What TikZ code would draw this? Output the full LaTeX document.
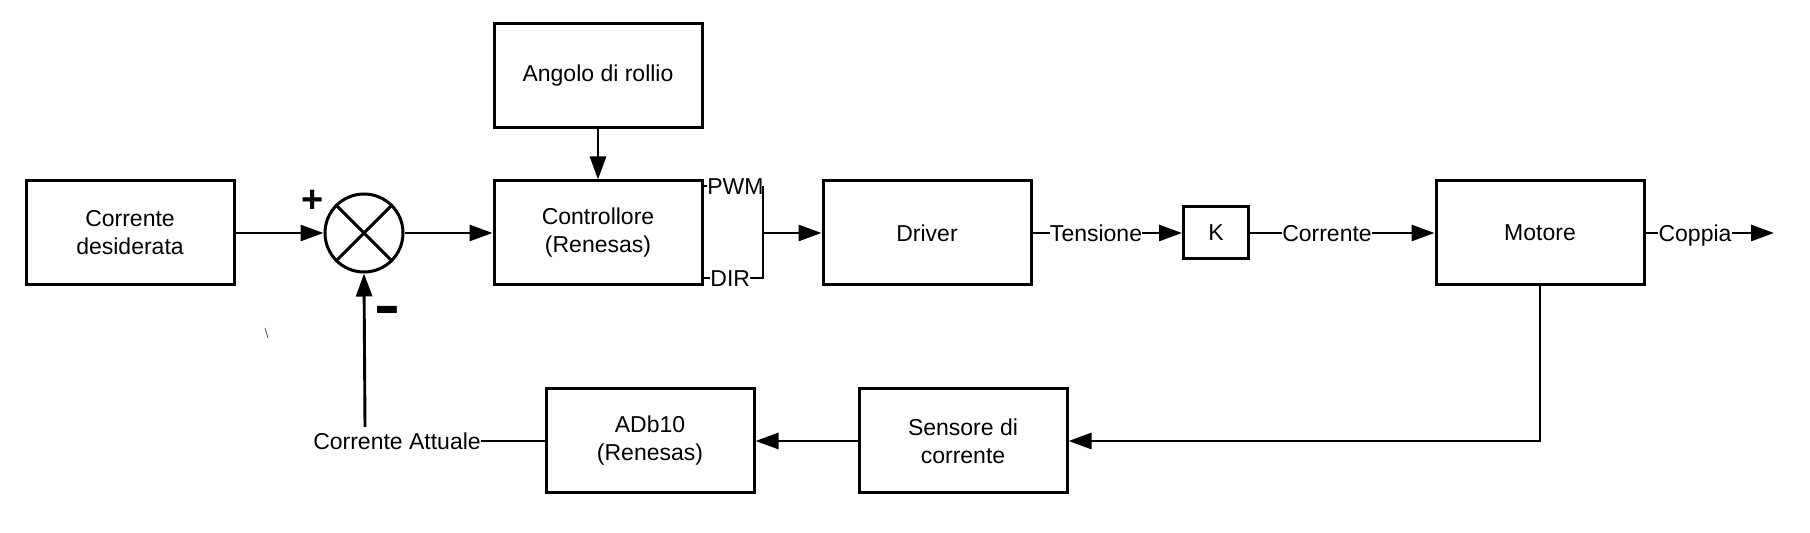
\documentclass[tikz,border=0pt]{standalone}
\usepackage{fontspec}
\setmainfont{Liberation Sans}
\usetikzlibrary{arrows.meta,calc}
\begin{document}
\begin{tikzpicture}[x=0.5pt,y=-0.5pt,
  every node/.style={font=\fontsize{11.5}{14}\selectfont},
  blockbox/.style={draw,line width=1.5pt,minimum width=104pt,minimum height=52pt,inner sep=0pt,align=center},
  lbl/.style={inner sep=0pt,text height=8.2pt,text depth=0pt},
  conn/.style={line width=1.45pt},
  arr/.style={conn,-{Triangle[length=11.5pt,width=8pt]}},
  sign/.style={inner sep=0pt,font=\fontsize{19}{19}\selectfont\bfseries}
]
\useasboundingbox (0,0) rectangle (1810,533);
\fill[white] (0,0) rectangle (1810,533);

% blocks
\node[blockbox] (cd)   at (130,233) {Corrente\\desiderata};
\node[draw,circle,line width=1.5pt,minimum size=39pt,inner sep=0pt] (sum) at (364,233) {};
\node[blockbox] (ctrl) at (598,233) {Controllore\\(Renesas)};
\node[blockbox] (ang)  at (598,76)  {Angolo di rollio};
\node[blockbox] (drv)  at (927,233) {Driver};
\node[blockbox,minimum width=32.5pt,minimum height=26pt] (k) at (1216,233) {K};
\node[blockbox] (mot)  at (1540,233) {Motore};
\node[blockbox] (sens) at (963,441) {Sensore di\\corrente};
\node[blockbox] (adc)  at (650,441) {ADb10\\(Renesas)};

% sum cross
\draw[line width=1.5pt] (sum.north west) -- (sum.south east);
\draw[line width=1.5pt] (sum.north east) -- (sum.south west);
\node[sign] (plus) at (313,201) {+};
\node[sign,font=\fontsize{30}{30}\selectfont\bfseries] (minus) at (387,316) {\scalebox{1.3}[1]{-}};

% labels
\node[lbl,anchor=west] (pwm) at (707,186) {PWM};
\node[lbl,anchor=west] (dir) at (710,278) {DIR};
\node[lbl] (tens) at (1096,233) {Tensione};
\node[lbl] (corr) at (1327,233) {Corrente};
\node[lbl] (cop)  at (1695,233) {Coppia};
\node[lbl] (ca)   at (397,441) {Corrente Attuale};

\coordinate (jt) at (763,186);
\coordinate (jb) at (763,278);
\coordinate (fb) at (365,427);
\coordinate (out) at (1774,233);
\coordinate (mb) at (1540,441);

% connectors
\draw[arr] (cd.east) -- (sum.west);
\draw[arr] (sum.east) -- (ctrl.west);
\draw[arr] (ang.south) -- (ctrl.north);
\draw[conn] (ctrl.east |- pwm.west) -- (pwm.west);
\draw[conn] (ctrl.east |- dir.west) -- (dir.west);
\draw[conn] (jt) -- (jb) -- (dir.east);
\draw[arr] (drv.west -| jt) -- (drv.west);
\draw[conn] (drv.east) -- (tens.west);
\draw[arr] (tens.east) -- (k.west);
\draw[conn] (k.east) -- (corr.west);
\draw[arr] (corr.east) -- (mot.west);
\draw[conn] (mot.east) -- (cop.west);
\draw[arr] (cop.east) -- (out);
\draw[arr] (mot.south) -- (mb) -- (sens.east);
\draw[arr] (sens.west) -- (adc.east);
\draw[conn] (adc.west) -- (ca.east);
\draw[arr] (fb) -- (sum.south);

% stray mark
\draw[line width=0.4pt,black!70] (265,328) -- (268,338);
\end{tikzpicture}
\end{document}
